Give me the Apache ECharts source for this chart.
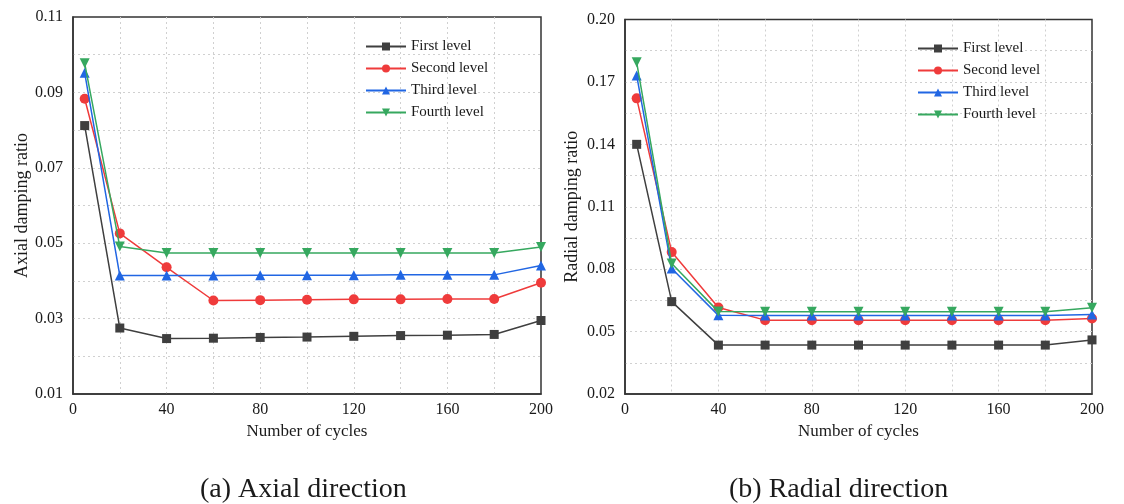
<!DOCTYPE html>
<html>
<head>
<meta charset="utf-8">
<script src="https://cdn.jsdelivr.net/npm/echarts@6/dist/echarts.min.js"></script>
<style>
html,body{margin:0;padding:0;background:#fff;}
#chart{width:1124px;height:504px;}
</style>
</head>
<body>
<div id="chart"></div>
<script>
// ---- data ----
var cycles = [5, 20, 40, 60, 80, 100, 120, 140, 160, 180, 200];
var seriesNames = ['First level', 'Second level', 'Third level', 'Fourth level'];

var axialFirst  = [0.0812, 0.0275, 0.0247, 0.0248, 0.0250, 0.0251, 0.0253, 0.0255, 0.0256, 0.0258, 0.0295];
var axialSecond = [0.0883, 0.0526, 0.0436, 0.0348, 0.0349, 0.0350, 0.0351, 0.0351, 0.0352, 0.0352, 0.0395];
var axialThird  = [0.0952, 0.0414, 0.0414, 0.0414, 0.0415, 0.0415, 0.0415, 0.0416, 0.0416, 0.0416, 0.0441];
var axialFourth = [0.0977, 0.0491, 0.0474, 0.0474, 0.0474, 0.0474, 0.0474, 0.0474, 0.0474, 0.0474, 0.0490];

var radialFirst  = [0.1400, 0.0644, 0.0435, 0.0435, 0.0435, 0.0435, 0.0435, 0.0435, 0.0435, 0.0435, 0.0460];
var radialSecond = [0.1621, 0.0882, 0.0616, 0.0555, 0.0555, 0.0555, 0.0555, 0.0555, 0.0555, 0.0555, 0.0563];
var radialThird  = [0.1731, 0.0803, 0.0578, 0.0577, 0.0577, 0.0577, 0.0577, 0.0577, 0.0577, 0.0577, 0.0582];
var radialFourth = [0.1794, 0.0827, 0.0596, 0.0595, 0.0595, 0.0595, 0.0595, 0.0595, 0.0595, 0.0595, 0.0614];

var xTickLabels = ['0', '40', '80', '120', '160', '200'];
var axialYTickLabels = ['0.01', '0.03', '0.05', '0.07', '0.09', '0.11'];
var radialYTickLabels = ['0.02', '0.05', '0.08', '0.11', '0.14', '0.17', '0.20'];

// ---- styling ----
var FONT = 'Liberation Serif';
var TXT = '#1a1a1a';
var colors = ['#3f3f3f', '#ef3b3b', '#2166e3', '#36a85f'];
var symbols = ['rect', 'circle', 'triangle', 'triangle'];
var symbolRotates = [0, 0, 0, 180];
var symbolSizes = [9, 10, 10, 10];

function pairs(ys) {
  return cycles.map(function (c, i) { return [c, ys[i]]; });
}

// radial y grid categories: major labels interleaved with unlabeled minor grid lines
var radialCats = [];
radialYTickLabels.forEach(function (l, i) {
  radialCats.push(l);
  if (i < radialYTickLabels.length - 1) radialCats.push('');
});

var gridLine = { show: true, showMinLine: false, showMaxLine: false, lineStyle: { color: '#d0d0d0', type: [2, 3], width: 1 } };
var axisLine = { show: true, lineStyle: { color: '#333', width: 1.5 } };

function xAxisFor(gi) {
  return {
    type: 'value', gridIndex: gi, min: 0, max: 200, interval: 20,
    name: 'Number of cycles', nameLocation: 'middle', nameGap: 29,
    nameTextStyle: { fontFamily: FONT, fontSize: 17, color: TXT },
    axisLine: axisLine, axisTick: { show: false },
    splitLine: gridLine,
    axisLabel: {
      fontFamily: FONT, fontSize: 16, color: TXT, margin: 8,
      formatter: function (v) { var s = String(Math.round(v)); return xTickLabels.indexOf(s) >= 0 ? s : ''; }
    }
  };
}

function makeSeries(names, datas, xi, yi) {
  return datas.map(function (d, i) {
    return {
      name: names[i], type: 'line', xAxisIndex: xi, yAxisIndex: yi,
      data: pairs(d), symbol: symbols[i], symbolSize: symbolSizes[i], symbolRotate: symbolRotates[i],
      lineStyle: { color: colors[i], width: 1.5 },
      itemStyle: { color: colors[i] },
      z: 3 + i, animation: false
    };
  });
}

var legendBase = {
  orient: 'vertical', itemWidth: 40, itemHeight: 10, itemGap: 7, padding: 0,
  textStyle: { fontFamily: FONT, fontSize: 15, color: TXT },
  data: seriesNames
};

var chart = echarts.init(document.getElementById('chart'), null, { renderer: 'canvas' });
var option = {
  backgroundColor: '#fff',
  animation: false,
  grid: [
    { left: 73, top: 17, width: 468, height: 377, show: true, borderColor: '#333', borderWidth: 1.5, containLabel: false },
    { left: 625, top: 19.5, width: 467, height: 374.5, show: true, borderColor: '#333', borderWidth: 1.5, containLabel: false }
  ],
  legend: [
    Object.assign({}, legendBase, { left: 365, top: 39 }),
    Object.assign({}, legendBase, { left: 917, top: 41 })
  ],
  xAxis: [xAxisFor(0), xAxisFor(1)],
  yAxis: [
    {
      type: 'value', gridIndex: 0, min: 0.01, max: 0.11, interval: 0.01,
      name: 'Axial damping ratio', nameLocation: 'middle', nameGap: 42,
      nameTextStyle: { fontFamily: FONT, fontSize: 18, color: TXT },
      axisLine: axisLine, axisTick: { show: false }, splitLine: gridLine,
      axisLabel: {
        fontFamily: FONT, fontSize: 16, color: TXT, margin: 10,
        formatter: function (v) { var s = v.toFixed(2); return axialYTickLabels.indexOf(s) >= 0 ? s : ''; }
      }
    },
    {
      type: 'category', gridIndex: 1, data: radialCats, boundaryGap: false,
      name: 'Radial damping ratio', nameLocation: 'middle', nameGap: 44,
      nameTextStyle: { fontFamily: FONT, fontSize: 18, color: TXT },
      axisLine: axisLine, axisTick: { show: false },
      splitLine: Object.assign({ interval: 0 }, gridLine),
      axisLabel: { interval: 0, fontFamily: FONT, fontSize: 16, color: TXT, margin: 10 }
    },
    {
      type: 'value', gridIndex: 1, min: 0.02, max: 0.20, show: false,
      splitLine: { show: false }
    }
  ],
  series: [].concat(
    makeSeries(seriesNames, [axialFirst, axialSecond, axialThird, axialFourth], 0, 0),
    makeSeries(seriesNames, [radialFirst, radialSecond, radialThird, radialFourth], 1, 2)
  ),
  graphic: [
    { type: 'text', left: 200, top: 476, style: { text: '(a) Axial direction', fontFamily: FONT, fontSize: 28, fill: TXT } },
    { type: 'text', left: 729, top: 476, style: { text: '(b) Radial direction', fontFamily: FONT, fontSize: 28, fill: TXT } }
  ]
};
chart.setOption(option);
</script>
</body>
</html>
